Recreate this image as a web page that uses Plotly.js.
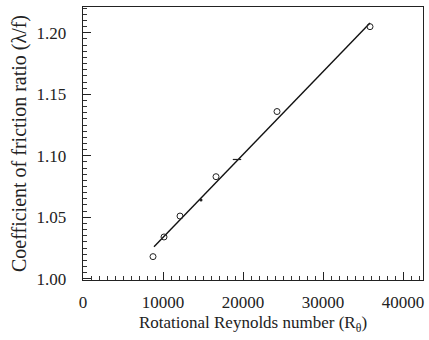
<!DOCTYPE html>
<html>
<head>
<meta charset="utf-8">
<script src="https://cdn.plot.ly/plotly-3.0.1.min.js"></script>
<style>html,body{margin:0;padding:0;background:#fff;}#chart{width:429px;height:340px;}</style>
</head>
<body>
<div id="chart"></div>
<script>
// Measured points (open circles)
const reCircles = [8750, 10125, 12125, 16625, 24250, 35875];
const ratioCircles = [1.018, 1.034, 1.051, 1.083, 1.136, 1.205];
// Other marks lying on the fit line
const reDots = [14750];
const ratioDots = [1.064];
const reDash = [19250];
const ratioDash = [1.097];
// Fitted line end points
const reFit = [8875, 35875];
const ratioFit = [1.026, 1.208];
// Tick labels
const xTickVals = [0, 10000, 20000, 30000, 40000];
const xTickText = ['0', '10000', '20000', '30000', '40000'];
const yTickVals = [1.00, 1.05, 1.10, 1.15, 1.20];
const yTickText = ['1.00', '1.05', '1.10', '1.15', '1.20'];

const font = 'Liberation Serif, Times New Roman, serif';

const traces = [
  {x: reFit, y: ratioFit, mode: 'lines', line: {color: '#111', width: 1.4}, hoverinfo: 'skip', showlegend: false},
  {x: reCircles, y: ratioCircles, mode: 'markers',
   marker: {symbol: 'circle-open', size: 6, color: '#222', line: {width: 1}}, showlegend: false},
  {x: reDots, y: ratioDots, mode: 'markers',
   marker: {symbol: 'circle', size: 3, color: '#222'}, showlegend: false},
  {x: reDash, y: ratioDash, mode: 'markers',
   marker: {symbol: 'line-ew-open', size: 6, color: '#222', line: {width: 1.2, color: '#222'}}, showlegend: false}
];

const layout = {
  width: 429, height: 340,
  margin: {l: 83, r: 6, t: 7, b: 60},
  paper_bgcolor: '#fff', plot_bgcolor: '#fff',
  font: {family: font, color: '#222', size: 17},
  xaxis: {
    range: [0, 42500], showgrid: false, zeroline: false,
    tickmode: 'array', tickvals: xTickVals, ticktext: xTickText,
    ticks: 'inside', ticklen: 8, tickwidth: 1, tickcolor: '#222',
    minor: {dtick: 1000, ticks: 'inside', ticklen: 4, tickwidth: 1, tickcolor: '#333'},
    showline: true, linecolor: '#222', linewidth: 1.3, mirror: true,
    ticklabelstandoff: 6,
    tickfont: {family: font, size: 17, color: '#222'},
    title: {text: 'Rotational Reynolds number (R<sub>θ</sub>)', font: {family: font, size: 17, color: '#222'}, standoff: 5}
  },
  yaxis: {
    range: [0.999, 1.221], showgrid: false, zeroline: false,
    tickmode: 'array', tickvals: yTickVals, ticktext: yTickText,
    ticks: 'inside', ticklen: 8, tickwidth: 1, tickcolor: '#222',
    minor: {dtick: 0.005, ticks: 'inside', ticklen: 4, tickwidth: 1, tickcolor: '#333'},
    showline: true, linecolor: '#222', linewidth: 1.3, mirror: true,
    ticklabelstandoff: 12,
    tickfont: {family: font, size: 17, color: '#222'},
    title: {text: 'Coefficient of friction ratio (λ/f)', font: {family: font, size: 20, color: '#222'}, standoff: 4}
  }
};

Plotly.newPlot('chart', traces, layout, {displayModeBar: false, staticPlot: true});
</script>
</body>
</html>
